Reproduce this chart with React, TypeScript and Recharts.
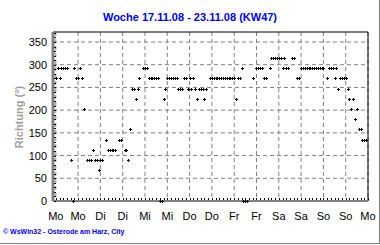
// Wind direction scatter for one week (WsWin32 style chart)

import {
  ScatterChart,
  Scatter,
  XAxis,
  YAxis,
  CartesianGrid,
  ReferenceLine,
} from 'recharts';

const FONT = '"Liberation Sans", Arial, sans-serif';

// hours since Monday 00:00
const stunden = [
  0, 1, 2, 3, 4, 5, 6, 8, 9, 10,
  11, 12, 13, 14, 15, 17, 18, 19, 20, 21,
  22, 23, 24, 25, 27, 28, 29, 30, 31, 32,
  34, 35, 37, 38, 39, 40, 41, 42, 43, 44,
  45, 47, 48, 49, 50, 51, 52, 53, 54, 55,
  56, 57, 58, 59, 60, 61, 62, 63, 64, 65,
  66, 67, 68, 69, 70, 71, 72, 73, 74, 75,
  76, 77, 78, 79, 80, 81, 83, 84, 85, 86,
  87, 88, 89, 90, 91, 92, 93, 94, 95, 96,
  97, 98, 99, 100, 101, 102, 103, 106, 108, 109,
  110, 111, 112, 113, 115, 116, 117, 118, 119, 120,
  121, 122, 123, 124, 125, 127, 128, 130, 131, 132,
  133, 134, 135, 136, 137, 138, 139, 140, 141, 142,
  143, 144, 146, 147, 148, 149, 150, 151, 152, 153,
  154, 155, 156, 157, 158, 159, 160, 161, 162, 163,
  164, 165, 166, 167,
];

// wind direction in degrees, one per entry of stunden
const richtung = [
  270, 292.5, 270, 292.5, 292.5, 292.5, 292.5, 90, 0, 292.5,
  270, 270, 292.5, 270, 202.5, 90, 90, 90, 112.5, 90,
  90, 67.5, 90, 90, 135, 112.5, 112.5, 112.5, 112.5, 112.5,
  135, 135, 112.5, 112.5, 90, 157.5, 247.5, 247.5, 225, 247.5,
  270, 292.5, 292.5, 292.5, 270, 270, 270, 270, 270, 270,
  0, 0, 225, 247.5, 270, 270, 270, 270, 270, 270,
  247.5, 247.5, 247.5, 270, 270, 247.5, 270, 247.5, 270, 247.5,
  225, 247.5, 247.5, 247.5, 225, 247.5, 270, 270, 270, 270,
  270, 270, 270, 270, 270, 270, 270, 270, 270, 270,
  225, 270, 270, 292.5, 0, 0, 0, 270, 292.5, 292.5,
  292.5, 292.5, 270, 270, 292.5, 315, 315, 315, 315, 315,
  315, 292.5, 315, 292.5, 292.5, 315, 315, 270, 270, 292.5,
  292.5, 292.5, 292.5, 292.5, 292.5, 292.5, 292.5, 292.5, 292.5, 292.5,
  292.5, 292.5, 270, 292.5, 292.5, 292.5, 270, 292.5, 247.5, 270,
  270, 270, 270, 247.5, 225, 202.5, 225, 180, 202.5, 157.5,
  157.5, 135, 135, 135,
];

const tagLabels = ['Mo', 'Mo', 'Di', 'Di', 'Mi', 'Mi', 'Do', 'Do', 'Fr', 'Fr', 'Sa', 'Sa', 'So', 'So', 'Mo'];
const gridX = [0, 12, 24, 36, 48, 60, 72, 84, 96, 108, 120, 132, 144, 156, 168];
const gridY = [0, 50, 100, 150, 200, 250, 300, 350];

const points = stunden.map((h, i) => ({ h, deg: richtung[i] }));

// minor ticks: every 2 hours / every 10 degrees
const xTicks = Array.from({ length: 85 }, (_, i) => i * 2);
const yTicks = Array.from({ length: 38 }, (_, i) => i * 10);

function XTick({ x, y, payload }: any) {
  const v = payload.value;
  const px = Math.round(x) + 0.5;
  return (
    <g>
      <line x1={px} x2={px} y1={y - 1} y2={y - 3} stroke="#000" />
      {v % 12 === 0 && (
        <text x={x} y={y + 19} textAnchor="middle" fontSize={11} fontFamily={FONT} fill="#000">
          {tagLabels[v / 12]}
        </text>
      )}
    </g>
  );
}

function YTick({ x, y, payload }: any) {
  const v = payload.value;
  const py = Math.round(y) + 0.5;
  return (
    <g>
      <line x1={x + 1} x2={x + 3} y1={py} y2={py} stroke="#000" />
      {v % 50 === 0 && (
        <text x={x - 6} y={y + 4} textAnchor="end" fontSize={11} fontFamily={FONT} fill="#000">
          {v}
        </text>
      )}
    </g>
  );
}

function Dot({ cx, cy }: any) {
  const x = Math.round(cx);
  const y = Math.round(cy);
  return (
    <path
      d={`M${x - 1},${y}h3v1h-3z M${x},${y - 1}h1v3h-1z`}
      fill="#000"
      shapeRendering="crispEdges"
    />
  );
}

export default function App() {
  return (
    <div style={{ position: 'absolute', left: 0, top: 0, width: 380, height: 245, background: '#fff', fontFamily: FONT }}>
      <div
        style={{
          position: 'absolute', top: 10, left: 0, width: 380, textAlign: 'center',
          fontSize: 11, fontWeight: 'bold', color: '#0000ff', lineHeight: '14px',
        }}
      >
        Woche 17.11.08 - 23.11.08 (KW47)
      </div>
      <div
        style={{
          position: 'absolute', left: 19, top: 117, whiteSpace: 'nowrap',
          transform: 'translate(-50%, -50%) rotate(-90deg)',
          fontSize: 11, fontWeight: 'bold', color: '#a0a0a0', lineHeight: '12px',
        }}
      >
        Richtung  (°)
      </div>
      <ScatterChart width={380} height={245} margin={{ top: 32, right: 12, bottom: 0, left: 0 }}>
        <CartesianGrid
          stroke="#808080"
          strokeDasharray="4 3"
          horizontalValues={gridY}
          verticalValues={gridX}
        />
        <XAxis
          type="number"
          dataKey="h"
          domain={[-1.5, 168]}
          ticks={xTicks}
          interval={0}
          height={44}
          tickSize={0}
          tickMargin={0}
          tickLine={false}
          tick={<XTick />}
          axisLine={{ stroke: '#808080', strokeWidth: 2 }}
        />
        <YAxis
          type="number"
          dataKey="deg"
          domain={[0, 372]}
          ticks={yTicks}
          interval={0}
          width={53}
          tickSize={0}
          tickMargin={0}
          tickLine={false}
          tick={<YTick />}
          axisLine={{ stroke: '#808080', strokeWidth: 3 }}
        />
        <ReferenceLine y={372} stroke="#000" />
        <ReferenceLine x={168} stroke="#000" />
        <Scatter data={points} shape={<Dot />} isAnimationActive={false} />
      </ScatterChart>
      <div
        style={{
          position: 'absolute', left: 3, top: 228, whiteSpace: 'nowrap',
          fontSize: 7, fontWeight: 'bold', color: '#0000ff',
        }}
      >
        © WsWin32 - Osterode am Harz, City
      </div>
      <div style={{ position: 'absolute', left: 379, top: 0, width: 1, height: 244, background: '#808080' }} />
      <div style={{ position: 'absolute', left: 0, top: 243, width: 380, height: 1, background: '#808080' }} />
    </div>
  );
}
